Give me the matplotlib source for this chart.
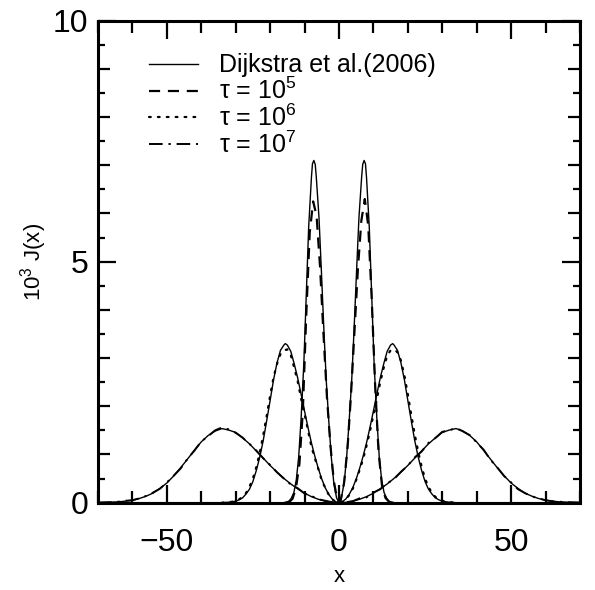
import numpy as np
import matplotlib
matplotlib.use("Agg")
import matplotlib.pyplot as plt

plt.rcParams['font.family'] = ['Liberation Sans', 'DejaVu Sans']
plt.rcParams['mathtext.fontset'] = 'custom'
plt.rcParams['mathtext.rm'] = 'Liberation Sans'
plt.rcParams['mathtext.default'] = 'regular'

# --- analytic curves (Dijkstra et al. 2006), positive half
x_an5 = [0, 0.7, 1.5, 2.2, 2.9, 3.7, 4.4, 5.1, 5.8, 6.6, 6.9, 7.3, 7.7, 8.0,
         8.8, 9.5, 10.2, 11.0, 11.7, 12.4, 13.1, 13.9, 14.6, 16.1, 70]
y_an5 = [0, .10, .41, .92, 1.63, 2.54, 3.61, 4.79, 5.91, 6.77, 7.02, 7.1, 7.03,
         6.75, 5.72, 4.31, 2.90, 1.75, .95, .47, .21, .085, .028, 0, 0]

x_an6 = [0, 1, 2, 3, 4, 5, 6, 7, 8, 9, 10, 11, 12, 13, 14, 15, 15.6, 16, 17,
         18, 19, 20, 21, 22, 23, 24, 25, 26, 27, 28, 29, 30, 31, 32, 33, 34, 70]
y_an6 = [0, .019, .078, .175, .31, .49, .71, .96, 1.24, 1.56, 1.90, 2.25, 2.59,
         2.88, 3.14, 3.27, 3.30, 3.27, 3.16, 2.90, 2.55, 2.12, 1.70, 1.29, .95,
         .67, .44, .28, .18, .10, .06, .03, .02, .01, .005, 0, 0]

x_an7 = list(range(0, 72, 2))
y_an7 = [0, .008, .031, .071, .125, .197, .288, .388, .504, .634, .772, .924,
         1.072, 1.22, 1.345, 1.457, 1.506, 1.537, 1.485, 1.394, 1.262, 1.087,
         .904, .724, .556, .408, .296, .199, .136, .086, .052, .032, .018,
         .011, .006, .003]

# --- Monte Carlo results (full range, left and right differ a little)
x_t5 = [-14.5, -13.5, -12.5, -11.5, -10.5, -9.5, -8.5, -7.5, -6.5, -5.5, -4.5,
        -3.5, -2.5, -1.5, -0.5, 0, 0.5, 1.5, 2.5, 3.5, 4.5, 5.5, 6.5, 7.5, 8.5,
        9.5, 10.5, 11.5, 12.5, 13.5, 14.5]
y_t5 = [.01, .08, .3, .8, 1.9, 3.9, 5.6, 6.25, 5.95, 4.9, 3.5, 2.2, 1.2, .45,
        .06, 0, .05, .42, 1.15, 2.25, 3.55, 4.85, 5.85, 6.3, 5.75, 4.25, 2.45,
        1.05, .35, .1, .02]

x_t6 = list(range(-34, 35))
y_t6 = [0, .005, .01, .02, .04, .07, .12, .20, .33, .50, .74, 1.04, 1.40, 1.80,
        2.22, 2.60, 2.88, 3.08, 3.16, 3.18, 3.06, 2.80, 2.52, 2.16, 1.84, 1.50,
        1.16, .92, .70, .46, .31, .17, .07, .02,
        0,
        .02, .07, .16, .29, .47, .68, .90, 1.18, 1.48, 1.82, 2.15, 2.50, 2.80,
        3.05, 3.16, 3.18, 3.12, 2.95, 2.64, 2.25, 1.82, 1.42, 1.06, .75, .50,
        .33, .20, .12, .07, .04, .02, .01, .005, 0]

x_t7 = list(range(-70, 72, 2))
y_t7 = [0, .005, .01, .02, .04, .05, .09, .14, .21, .29, .42, .56, .71, .91,
        1.08, 1.27, 1.38, 1.50, 1.56, 1.52, 1.45, 1.35, 1.22, 1.08, .92, .78,
        .63, .50, .38, .30, .19, .14, .07, .04, .01,
        0,
        .01, .03, .09, .11, .21, .28, .40, .49, .64, .77, .94, 1.06, 1.24, 1.34,
        1.47, 1.50, 1.55, 1.48, 1.40, 1.25, 1.10, .89, .73, .55, .42, .28, .20,
        .13, .09, .05, .03, .02, .01, .005, 0]


def mirror(x, y):
    x = np.asarray(x, float)
    y = np.asarray(y, float)
    return np.concatenate([-x[::-1], x[1:]]), np.concatenate([y[::-1], y[1:]])


fig = plt.figure(figsize=(5.95, 5.90), dpi=100)
ax = fig.add_axes([0.1647, 0.148, 0.810, 0.817])

xa, ya = mirror(x_an5, y_an5)
ax.plot(xa, ya, color='black', lw=1.0, label='Dijkstra et al.(2006)')
xa, ya = mirror(x_an6, y_an6)
ax.plot(xa, ya, color='black', lw=1.0)
xa, ya = mirror(x_an7, y_an7)
ax.plot(xa, ya, color='black', lw=1.0)

ax.plot(x_t5, y_t5, color='black', lw=1.6, dashes=(5, 3.5),
        label=r'τ = 10$^{5}$')
ax.plot(x_t6, y_t6, color='black', lw=1.6, dashes=(0.8, 3.2),
        dash_capstyle='round', label=r'τ = 10$^{6}$')
ax.plot(x_t7, y_t7, color='black', lw=1.4, dashes=(7, 3, 1.2, 3),
        label=r'τ = 10$^{7}$')

ax.set_xlim(-70, 70)
ax.set_ylim(0, 10)

ax.set_xticks(np.arange(-70, 71, 10))
ax.set_xticklabels(['' if v % 50 else ('\u221250' if v < 0 else str(v))
                    for v in range(-70, 71, 10)])
ax.set_yticks(np.arange(0, 11, 1))
ax.set_yticklabels(['' if v % 5 else str(v) for v in range(0, 11)])
ax.set_yticks(np.arange(0, 10.01, 0.5), minor=True)

ax.tick_params(which='both', direction='in', top=True, right=True,
               width=1.6, labelsize=23)
ax.tick_params(which='major', length=8.5)
ax.tick_params(which='minor', length=5)
ax.tick_params(axis='x', which='major', pad=18)
ax.tick_params(axis='y', which='major', pad=7)

for t, v in zip(ax.xaxis.get_major_ticks(), range(-70, 71, 10)):
    if v % 50 == 0:
        t.tick1line.set_markersize(13)
        t.tick2line.set_markersize(13)
for t, v in zip(ax.yaxis.get_major_ticks(), range(0, 11)):
    if v % 5 == 0:
        t.tick1line.set_markersize(13)
        t.tick2line.set_markersize(13)

for s in ax.spines.values():
    s.set_linewidth(2.2)

ax.set_xlabel('x', fontsize=16, labelpad=6)
ax.set_ylabel(r'10$^{3}$ J(x)', fontsize=16, labelpad=3)

ax.legend(loc='upper left', bbox_to_anchor=(0.08, 0.958), frameon=False,
          fontsize=18, handlelength=1.95, handletextpad=0.85,
          labelspacing=0.02, borderpad=0)

fig.savefig('out.png', dpi=100)
